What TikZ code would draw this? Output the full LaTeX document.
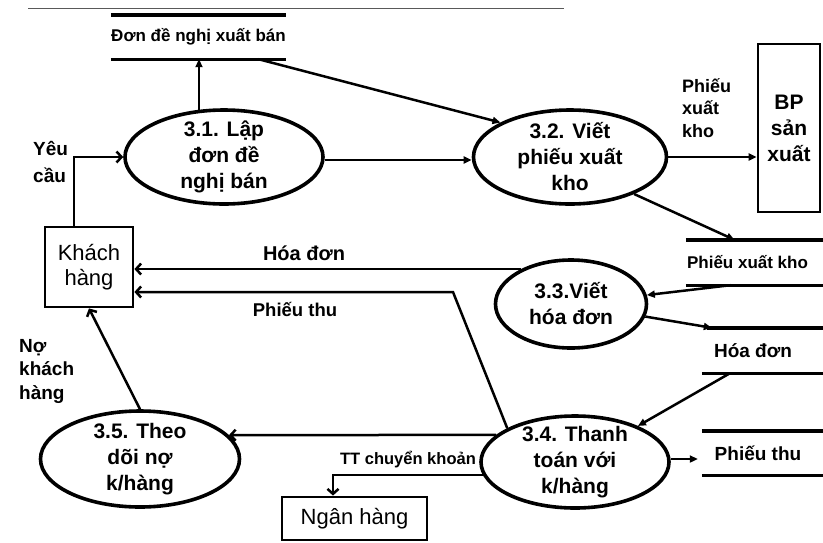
\documentclass[tikz,border=0pt]{standalone}
\usepackage{fontspec}
\setmainfont{Liberation Sans}
\usetikzlibrary{arrows.meta,shapes.geometric}

\begin{document}
\begin{tikzpicture}[x=1pt,y=-1pt,
  proc/.style={ellipse,draw,line width=3.6pt,inner sep=0pt},
  proctext/.style={font=\fontsize{21}{26}\selectfont\bfseries,align=center,inner sep=0pt},
  ent/.style={rectangle,draw,line width=2.8pt,inner sep=0pt,align=center},
  store/.style={inner sep=0pt,font=\fontsize{17}{20}\selectfont\bfseries},
  storeline/.style={line width=3.4pt},
  flow/.style={line width=2.5pt,-{Triangle[length=8pt,width=7pt]}},
  oflow/.style={line width=2.5pt,-{Straight Barb[length=5pt,width=11pt]}},
  lbl/.style={inner sep=0pt,align=left}]

% canvas
\useasboundingbox (0,0) rectangle (823,542);
\fill[white] (0,0) rectangle (823,542);
\draw[black!65,line width=1pt] (28,8) -- (564,8);
\coordinate (edge) at (823,0);

% processes
\node[proc,minimum width=198pt,minimum height=94pt,
  label={[proctext]center:{3.1. Lập\\đơn đề\\nghị bán}}] (p31) at (224,157) {};
\node[proc,minimum width=193pt,minimum height=94pt,
  label={[proctext]center:{3.2. Viết\\phiếu xuất\\kho}}] (p32) at (570,157) {};
\node[proc,minimum width=151pt,minimum height=88pt,
  label={[proctext]center:{3.3.Viết\\hóa đơn}}] (p33) at (571,304) {};
\node[proc,minimum width=188pt,minimum height=92pt,
  label={[proctext]center:{3.4. Thanh\\toán với\\k/hàng}}] (p34) at (575,462) {};
\node[proc,minimum width=199pt,minimum height=96pt,
  label={[proctext]center:{3.5. Theo\\dõi nợ\\k/hàng}}] (p35) at (140,459) {};

% external entities
\node[ent,minimum width=88pt,minimum height=80pt,font=\fontsize{22}{25}\selectfont] (kh) at (89,267) {Khách\\hàng};
\node[ent,minimum width=62pt,minimum height=168pt,font=\fontsize{21}{26}\selectfont\bfseries] (bp) at (789,128) {BP\\sản\\xuất};
\node[ent,minimum width=145pt,minimum height=43pt,font=\fontsize{22}{26}\selectfont] (nh) at (354.5,518.5) {Ngân hàng};

% data stores
\node[store,minimum width=175pt,minimum height=44pt] (s1) at (198.5,37) {Đơn đề nghị xuất bán};
\draw[storeline] (s1.north west) -- (s1.north east) (s1.south west) -- (s1.south east);

\node[store,minimum width=123pt,minimum height=45pt] (spxk) at (747.5,262.5) {Phiếu xuất kho};
\draw[storeline] (spxk.north west) -- (spxk.north west -| edge)
                 (spxk.south west) -- (spxk.south west -| edge);

\node[store,minimum width=102pt,minimum height=45pt,font=\fontsize{19}{22}\selectfont\bfseries] (shd) at (753,350.5) {Hóa đơn};
\draw[storeline] ([xshift=5pt]shd.north west) -- (shd.north west -| edge)
                 (shd.south west) -- (shd.south west -| edge);

\node[store,minimum width=112pt,minimum height=44pt,font=\fontsize{19}{22}\selectfont\bfseries] (spt) at (758,453) {Phiếu thu};
\draw[storeline] (spt.north west) -- (spt.north west -| edge)
                 (spt.south west) -- (spt.south west -| edge);

% flow labels
\node[lbl,anchor=west,font=\fontsize{19}{27}\selectfont\bfseries] (lyc) at (33,162) {Yêu\\cầu};
\node[lbl,anchor=west,font=\fontsize{18}{22.5}\selectfont\bfseries] (lpxk) at (682,108) {Phiếu\\xuất\\kho};
\node[lbl,font=\fontsize{20}{24}\selectfont\bfseries] (lhd) at (304,253) {Hóa đơn};
\node[lbl,font=\fontsize{18.5}{22}\selectfont\bfseries] (lpt) at (295,309) {Phiếu thu};
\node[lbl,anchor=west,font=\fontsize{19}{23.5}\selectfont\bfseries] (lnkh) at (19,371) {Nợ\\khách\\hàng};
\node[lbl,font=\fontsize{16.5}{20}\selectfont\bfseries] (ltt) at (408,460) {TT chuyển khoản};

% flows
\draw[oflow] ([xshift=-15pt]kh.north) |- (p31.west);
\draw[flow] ([xshift=-25pt,yshift=-2pt]p31.north) -- ([xshift=-25pt]p31.north |- s1.south);
\draw[flow] ([xshift=60pt]s1.south) -- (p32.north west);
\draw[flow] ([yshift=-3pt]p31.east) -- ([yshift=-3pt]p32.west);
\draw[flow] (p32.east) -- (p32.east -| bp.west);
\draw[flow] (p32.-30) -- ([xshift=-13pt]spxk.north);
\draw[flow] ([xshift=-17pt]spxk.south) -- (p33);
\draw[flow] (p33) -- ([xshift=10pt]shd.north west);
\draw[flow] ([xshift=-23pt]shd.south) -- (p34);
\draw[flow,shorten >=4pt] ([yshift=3pt]p34.east) -- ([yshift=3pt]p34.east -| spt.west);

\draw[oflow] (p33.145) -- (p33.145 -| kh.east);
\coordinate (ptbend) at (453,292);
\draw[oflow] (p34.north west) -- (ptbend) -- (ptbend -| kh.east);
\draw[oflow] (p34.161) -- (p35.15);
\draw[oflow] (p35.north) -- (kh.south);
\draw[oflow] (p34.188) -| ([xshift=-21.5pt]nh.north);
\end{tikzpicture}
\end{document}
